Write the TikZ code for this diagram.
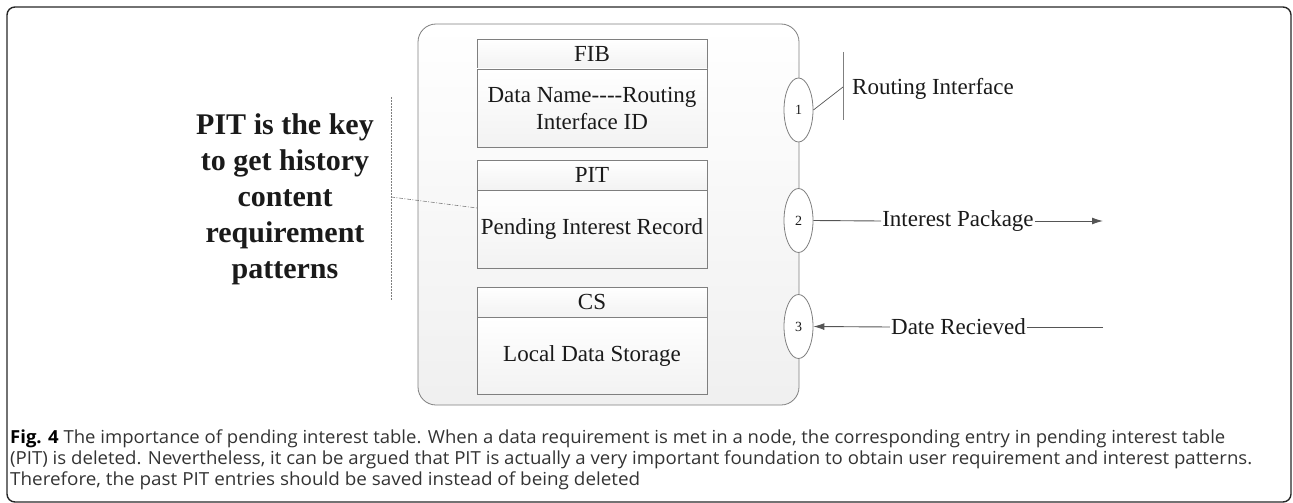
\documentclass[tikz,border=0pt]{standalone}
\usepackage{fontspec}
\setmainfont{Liberation Serif}
\newfontfamily\capfont{Open Sans}
\usetikzlibrary{arrows.meta,shapes.geometric}
\definecolor{linegray}{HTML}{7F7F7F}
\definecolor{arrowgray}{HTML}{555555}
\definecolor{txt}{HTML}{1A1A1A}
\definecolor{captxt}{HTML}{333333}
\tikzset{
  nodebox/.style={draw=linegray, line width=0.8pt, rounded corners=18pt, top color=white, bottom color=black!6, minimum width=381pt, minimum height=381pt, inner sep=0pt},
  hdr/.style={draw=linegray, line width=0.8pt, top color=white, bottom color=black!5, minimum width=230pt, minimum height=30pt, inner sep=0pt, text=txt, font=\fontsize{23}{27}\selectfont},
  body/.style={draw=linegray, line width=0.8pt, top color=white, bottom color=black!5, minimum width=230pt, minimum height=78pt, inner sep=0pt, text=txt, align=center, font=\fontsize{23}{27}\selectfont},
  port/.style={ellipse, draw=linegray, line width=0.8pt, fill=white, minimum width=29pt, minimum height=64pt, inner sep=0pt, text=txt, font=\fontsize{14}{16}\selectfont},
  lbl/.style={inner sep=1pt, text=txt, font=\fontsize{23}{27}\selectfont},
  wire/.style={draw=arrowgray, line width=0.9pt},
  arr/.style={wire, -{Latex[length=11pt,width=7pt]}},
  capline/.style={anchor=base west, inner sep=0pt, text=captxt},
}
\begin{document}
\begin{tikzpicture}[x=1pt,y=-1pt]
\useasboundingbox (0,0) rectangle (1293,503);
% outer frame
\draw[line width=1.4pt, draw=black!85, rounded corners=8pt] (7,7) rectangle (1291,502);
% node box
\node[nodebox] (nb) at (608.5,214.5) {};
% tables
\node[hdr] (fibh) at (592,54) {FIB};
\node[body] (fibb) at (592,108) {Data Name-{}-{}-{}-Routing\\Interface ID};
\node[hdr] (pith) at (592,175) {PIT};
\node[body] (pitb) at (592,229) {Pending Interest Record};
\node[hdr] (csh) at (592,302) {CS};
\node[body, minimum height=77pt] (csb) at (592,355.5) {Local Data Storage};
% ports
\node[port] (e1) at (798.5,110) {1};
\node[port] (e2) at (798.5,220.5) {2};
\node[port] (e3) at (798.5,326.5) {3};
% routing interface
\coordinate (rtop) at (843,52);
\coordinate (rbot) at (843,120);
\coordinate (rj) at (843,87);
\draw[draw=linegray, line width=0.8pt] (rtop) -- (rbot);
\draw[draw=arrowgray, line width=0.7pt] (e1.east) -- (rj);
\node[lbl, anchor=west] (ri) at (851,89) {Routing Interface};
% interest package
\node[lbl] (ip) at (958,221) {Interest Package};
\coordinate (ipend) at (1103,221);
\draw[wire] (e2.east) -- (ip.west);
\draw[arr] (ip.east) -- (ipend);
% data received
\node[lbl] (dr) at (958.5,327) {Date Recieved};
\coordinate (drstart) at (1103,327);
\draw[wire] (drstart) -- (dr.east);
\draw[arr] (dr.west) -- (e3.east);
% annotation
\node[align=center, text=txt, font=\bfseries\fontsize{30}{36}\selectfont] (note) at (285,199) {PIT is the key\\to get history\\content\\requirement\\patterns};
\coordinate (dtop) at (391,97);
\coordinate (dbot) at (391,300);
\coordinate (dmid) at (391,197);
\coordinate (dend) at (477,208);
\draw[draw=linegray, line width=0.6pt, dash pattern=on 2pt off 1pt] (dtop) -- (dbot);
\draw[draw=linegray, line width=0.6pt, dash pattern=on 4pt off 1.5pt on 1pt off 1.5pt] (dmid) -- (dend);
% caption
\node[capline] (c1) at (10,443) {\resizebox{1215pt}{\height}{\capfont\fontsize{18}{21}\selectfont\textcolor{black}{\bfseries Fig. 4} The importance of pending interest table. When a data requirement is met in a node, the corresponding entry in pending interest table}};
\node[capline] (c2) at (10,464) {\resizebox{1242pt}{\height}{\capfont\fontsize{18}{21}\selectfont (PIT) is deleted. Nevertheless, it can be argued that PIT is actually a very important foundation to obtain user requirement and interest patterns.}};
\node[capline] (c3) at (10,485) {\resizebox{630pt}{\height}{\capfont\fontsize{18}{21}\selectfont Therefore, the past PIT entries should be saved instead of being deleted}};
\end{tikzpicture}
\end{document}
